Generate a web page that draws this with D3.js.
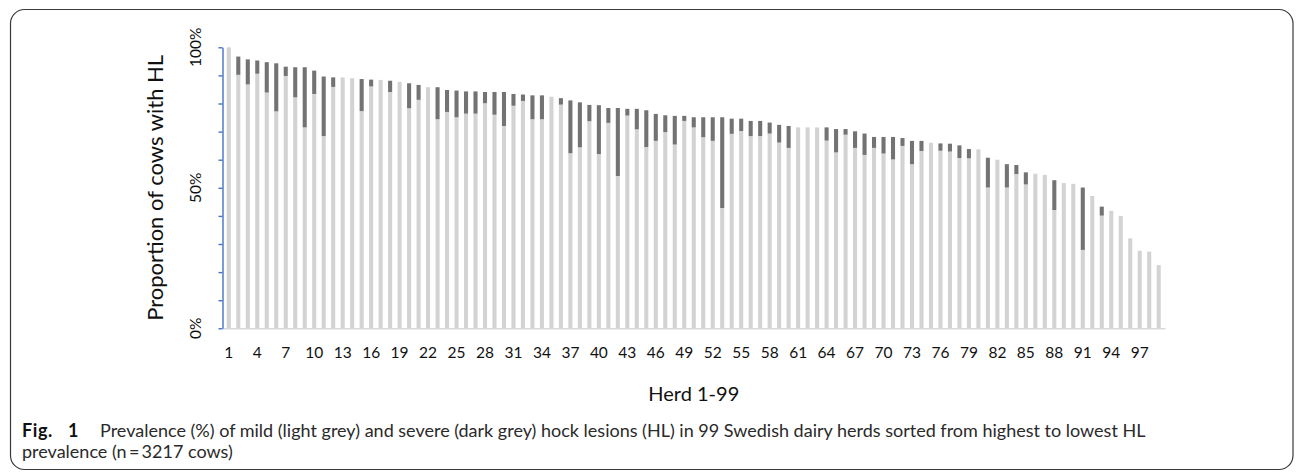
<!DOCTYPE html>
<html lang="en">

<head>
  <meta charset="UTF-8">
  <title>Hock lesions by herd</title>
  <script src="https://d3js.org/d3.v7.min.js"></script>
  <style>
    body {
      margin: 0;
      padding: 0;
      background-color: #ffffff;
    }

    svg text {
      font-family: Lato, "Liberation Sans", sans-serif;
      fill: #111;
    }

    .tick-label {
      font-size: 15.5px;
    }

    .axis-title {
      font-size: 20px;
    }

    .caption {
      font-family: "Liberation Sans Narrow", Lato, sans-serif;
      font-size: 15px;
      fill: #2a2a2a;
    }

    svg text.fig {
      font-family: Lato, "Liberation Sans", sans-serif;
      font-weight: bold;
      font-size: 18px;
      letter-spacing: 0.6px;
      fill: #111;
    }
  </style>
</head>

<body>
  <div id="chart"></div>
  <script>
    // herds 1-99, sorted by total HL prevalence
    const herds = d3.range(1, 100);

    // mild HL (light grey), % of cows
    const mild = [
      100, 90.2, 86.8, 90.6, 83.9, 77.2, 89.8, 82.2, 71.5, 83.4,
      68.4, 85.9, 89.3, 89.0, 77.3, 86.1, 88.4, 84.1, 87.7, 78.3,
      81.3, 85.8, 74.4, 77.0, 75.1, 76.4, 76.4, 80.1, 76.0, 72.0,
      79.2, 80.9, 74.4, 74.4, 82.4, 79.6, 62.3, 64.4, 73.7, 62.0,
      73.1, 54.2, 75.7, 70.8, 64.5, 66.7, 69.8, 65.4, 73.8, 71.5,
      68.0, 66.7, 42.8, 69.2, 70.2, 68.4, 68.4, 69.3, 66.1, 64.2,
      71.5, 71.5, 71.5, 66.8, 62.6, 68.9, 64.2, 61.7, 64.2, 62.2,
      60.1, 64.9, 58.4, 63.1, 66.0, 63.2, 62.9, 60.6, 60.5, 63.7,
      50.1, 60.0, 50.1, 54.9, 51.2, 55.0, 54.6, 42.1, 51.7, 51.4,
      27.9, 47.1, 40.1, 41.8, 40.0, 32.0, 27.6, 27.3, 22.5
    ];

    // severe HL (dark grey), % of cows, stacked on top of mild
    const severe = [
      0, 6.5, 8.9, 4.7, 10.8, 17.1, 3.3, 10.7, 21.4, 8.3,
      21.2, 3.4, 0, 0, 11.4, 2.4, 0, 4.0, 0, 8.9,
      5.3, 0, 11.4, 7.8, 9.5, 7.9, 7.9, 4.0, 8.1, 12.1,
      4.2, 2.3, 8.5, 8.5, 0, 2.3, 18.8, 16.0, 5.8, 17.4,
      5.3, 24.2, 2.4, 7.3, 13.1, 9.6, 6.0, 10.2, 1.8, 3.6,
      7.1, 8.4, 32.3, 5.4, 4.4, 5.4, 5.4, 3.9, 6.3, 7.8,
      0, 0, 0, 4.7, 8.3, 2.0, 5.9, 7.6, 3.9, 5.9,
      8.0, 2.8, 8.3, 3.6, 0, 2.6, 2.8, 4.5, 3.3, 0,
      10.6, 0, 8.3, 3.2, 4.3, 0, 0, 10.6, 0, 0,
      22.2, 0, 3.2, 0, 0, 0, 0, 0, 0
    ];

    const xTickLabels = [1, 4, 7, 10, 13, 16, 19, 22, 25, 28, 31, 34, 37, 40, 43, 46, 49,
      52, 55, 58, 61, 64, 67, 70, 73, 76, 79, 82, 85, 88, 91, 94, 97];
    const yTicks = [0, 10, 20, 30, 40, 50, 60, 70, 80, 90, 100];
    const yTickLabels = [0, 50, 100];

    const data = herds.map((h, i) => ({ herd: h, mild: mild[i], severe: severe[i] }));

    const width = 1296, height = 473;
    const plot = { left: 222.5, right: 1165, top: 47.3, bottom: 328.3 };

    const svg = d3.select("#chart")
      .append("svg")
      .attr("width", width)
      .attr("height", height);

    // figure frame
    svg.append("rect")
      .attr("x", 10.5)
      .attr("y", 9.5)
      .attr("width", 1282.5)
      .attr("height", 460)
      .attr("rx", 14)
      .attr("fill", "none")
      .attr("stroke", "#3a3a3a")
      .attr("stroke-width", 1.2);

    const x = d3.scaleBand()
      .domain(herds)
      .range([plot.left, plot.right])
      .paddingInner(0.57)
      .paddingOuter(0.45);

    const y = d3.scaleLinear()
      .domain([0, 100])
      .range([plot.bottom, plot.top]);

    // mild
    svg.selectAll("rect.mild")
      .data(data)
      .enter()
      .append("rect")
      .attr("class", "mild")
      .attr("x", d => x(d.herd))
      .attr("y", d => y(d.mild))
      .attr("width", x.bandwidth())
      .attr("height", d => y(0) - y(d.mild))
      .attr("fill", "#d3d3d3");

    // severe on top
    svg.selectAll("rect.severe")
      .data(data.filter(d => d.severe > 0))
      .enter()
      .append("rect")
      .attr("class", "severe")
      .attr("x", d => x(d.herd))
      .attr("y", d => y(d.mild + d.severe))
      .attr("width", x.bandwidth())
      .attr("height", d => y(d.mild) - y(d.mild + d.severe))
      .attr("fill", "#737373");

    // x axis
    const xAxis = svg.append("g")
      .attr("transform", `translate(0, ${plot.bottom})`)
      .call(d3.axisBottom(x).tickValues(xTickLabels).tickSize(0).tickPadding(19));
    xAxis.select(".domain").attr("stroke", "#d9d9d9").attr("stroke-width", 1.6);
    xAxis.selectAll("text")
      .attr("class", "tick-label")
      .attr("fill", "#111")
      .style("font-family", "Lato, 'Liberation Sans', sans-serif");

    // y axis
    const yAxis = svg.append("g")
      .attr("transform", `translate(${plot.left}, 0)`)
      .call(d3.axisLeft(y).tickValues(yTicks).tickSize(4).tickSizeOuter(0).tickFormat(""));
    yAxis.selectAll(".domain, line").attr("stroke", "#4472c4").attr("stroke-width", 1.4);

    svg.selectAll("text.ylab")
      .data(yTickLabels)
      .enter()
      .append("text")
      .attr("class", "tick-label")
      .attr("transform", d => `translate(201, ${y(d)}) rotate(-90)`)
      .attr("text-anchor", "middle")
      .text(d => d + "%");

    // axis titles
    svg.append("text")
      .attr("class", "axis-title")
      .style("font-size", "22px")
      .attr("transform", `translate(163, ${(plot.top + plot.bottom) / 2}) rotate(-90)`)
      .attr("text-anchor", "middle")
      .text("Proportion of cows with HL");

    svg.append("text")
      .attr("class", "axis-title")
      .attr("x", (plot.left + plot.right) / 2)
      .attr("y", 401)
      .attr("text-anchor", "middle")
      .text("Herd 1-99");

    // caption
    svg.append("text").attr("class", "fig").attr("x", 22).attr("y", 437).text("Fig.");
    svg.append("text").attr("class", "fig").attr("x", 68).attr("y", 437).text("1");

    const capRest = svg.append("text")
      .attr("class", "caption")
      .attr("x", 100)
      .attr("y", 437)
      .text("Prevalence (%) of mild (light grey) and severe (dark grey) hock lesions (HL) in 99 Swedish dairy herds sorted from highest to lowest HL");

    svg.append("text")
      .attr("class", "caption")
      .attr("x", 22)
      .attr("y", 458)
      .text("prevalence (n\u2009=\u20093217 cows)");

    // fit caption line to the original width
    const w = capRest.node().getComputedTextLength();
    const fs = Math.max(12, Math.min(18, 15 * 1113 / w));
    svg.selectAll("text.caption").style("font-size", fs + "px");
  </script>
</body>

</html>
